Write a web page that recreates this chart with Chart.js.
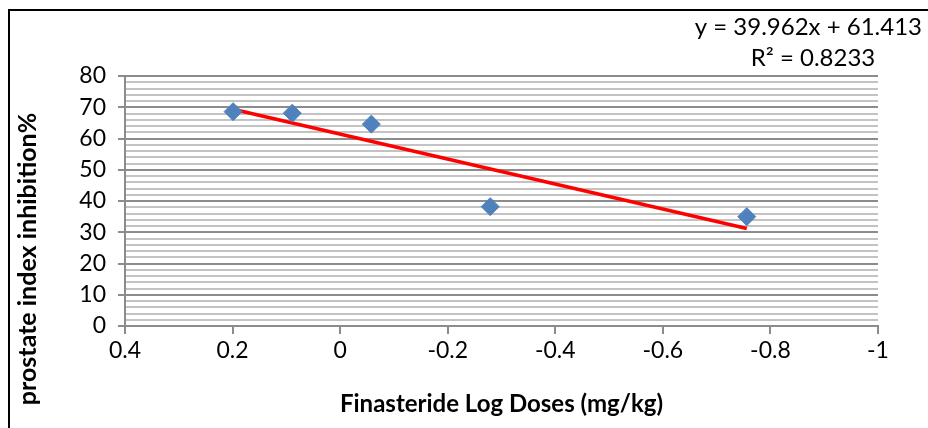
<!DOCTYPE html>
<html>
<head>
<meta charset="utf-8">
<script src="https://cdn.jsdelivr.net/npm/chart.js@4/dist/chart.umd.min.js"></script>
<style>
  html, body { margin: 0; padding: 0; background: #fff; }
  #wrap { position: relative; width: 928px; height: 428px; }
  #frame { position: absolute; left: 8px; top: 9px; right: 0; bottom: 0; border-left: 2px solid #000; border-top: 2px solid #000; pointer-events: none; }
</style>
</head>
<body>
<div id="wrap">
  <canvas id="chart" width="928" height="428"></canvas>
  <div id="frame"></div>
</div>
<script>
// data
const logDoses = [0.199, 0.089, -0.058, -0.279, -0.756];
const inhibition = [68.6, 68.1, 64.6, 38.2, 35.0];

// trendline from the printed equation
const slope = 39.962;
const intercept = 61.413;
const rSquared = 0.8233;

const xTitle = 'Finasteride Log Doses (mg/kg)';
const yTitle = 'prostate index inhibition%';

const FONT = 'Lato, "Open Sans", sans-serif';

const points = logDoses.map((x, i) => ({ x, y: inhibition[i] }));
const xLo = Math.min(...logDoses), xHi = Math.max(...logDoses);
const trend = [xHi, xLo].map(x => ({ x, y: slope * x + intercept }));

const fmt = v => String(Math.round(v * 10) / 10);

// y title and equation label are placed by hand, like Excel does it
const annotations = {
  id: 'annotations',
  afterDraw(chart) {
    const c = chart.ctx;
    c.save();
    c.fillStyle = '#000';
    c.font = 'bold 25px ' + FONT;
    c.textAlign = 'center';
    c.textBaseline = 'middle';
    c.translate(28, 259);
    c.rotate(-Math.PI / 2);
    c.fillText(yTitle, 0, 0);
    c.restore();

    c.save();
    c.fillStyle = '#000';
    c.font = '24px ' + FONT;
    c.textBaseline = 'middle';
    c.textAlign = 'right';
    c.fillText('y = ' + slope + 'x + ' + intercept, 922, 27);
    c.textAlign = 'center';
    c.fillText('R\u00B2 = ' + rSquared, 813, 58);
    c.restore();
  }
};

new Chart(document.getElementById('chart'), {
  type: 'scatter',
  data: {
    datasets: [
      {
        label: 'trend',
        type: 'line',
        data: trend,
        borderColor: '#ff0000',
        borderWidth: 3.5,
        pointRadius: 0,
        fill: false,
        order: 2
      },
      {
        label: 'inhibition',
        data: points,
        pointStyle: 'rectRot',
        pointRadius: 9,
        pointBackgroundColor: '#4f81bd',
        pointBorderColor: '#4f81bd',
        pointBorderWidth: 1,
        order: 1
      }
    ]
  },
  options: {
    responsive: false,
    animation: false,
    layout: { padding: { left: 0, top: 76, right: 50, bottom: 0 } },
    plugins: { legend: { display: false }, tooltip: { enabled: false } },
    scales: {
      x: {
        type: 'linear',
        reverse: true,
        min: -1,
        max: 0.4,
        afterFit: s => { s.height = 102; },
        border: { color: '#8c8c8c', width: 2 },
        grid: { drawOnChartArea: false, drawTicks: true, tickLength: 8, color: '#8c8c8c', lineWidth: 2 },
        ticks: { stepSize: 0.2, callback: fmt, color: '#000', padding: 3, font: { family: FONT, size: 23 }, maxRotation: 0 },
        title: { display: true, text: xTitle, color: '#000', font: { family: FONT, size: 24, weight: 'bold' }, padding: { top: 0, bottom: 9 } }
      },
      y: {
        min: 0,
        max: 80,
        afterFit: s => { s.width = 125; },
        border: { color: '#8c8c8c', width: 2 },
        grid: {
          lineWidth: 2,
          tickLength: 7,
          color: c => (c.tick && c.tick.value % 10 === 0) ? '#8c8c8c' : '#c3c3c3',
          tickColor: c => (c.tick && c.tick.value % 10 === 0) ? '#8c8c8c' : 'rgba(0,0,0,0)'
        },
        ticks: {
          stepSize: 2,
          autoSkip: false,
          padding: 12,
          color: '#000',
          font: { family: FONT, size: 23 },
          callback: v => v % 10 === 0 ? String(v) : ''
        }
      }
    }
  },
  plugins: [annotations]
});
</script>
</body>
</html>
